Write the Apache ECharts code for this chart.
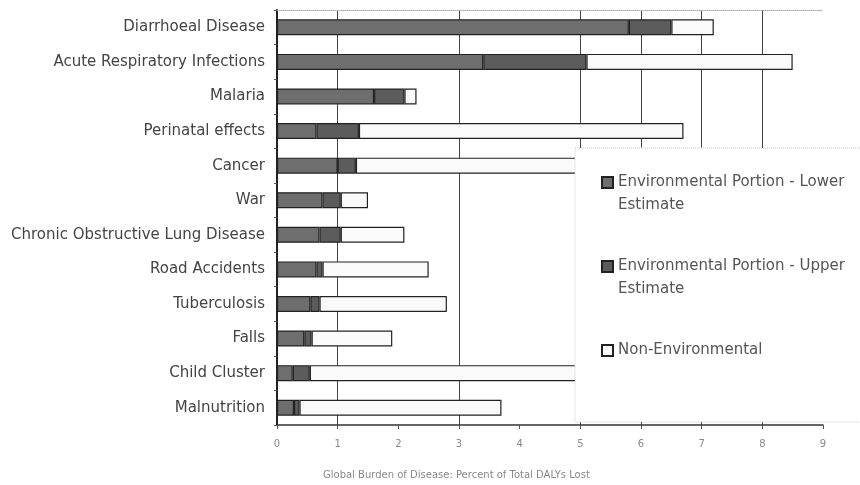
<!DOCTYPE html>
<html>
<head>
<meta charset="utf-8">
<script src="https://cdn.jsdelivr.net/npm/echarts@6/dist/echarts.min.js"></script>
<style>
html,body{margin:0;padding:0;background:#fff}
#main{width:860px;height:485px}
</style>
</head>
<body>
<div id="main"></div>
<script>
var categories = ['Diarrhoeal Disease', 'Acute Respiratory Infections', 'Malaria', 'Perinatal effects',
    'Cancer', 'War', 'Chronic Obstructive Lung Disease', 'Road Accidents', 'Tuberculosis', 'Falls',
    'Child Cluster', 'Malnutrition'];
// segment lengths, % of total DALYs lost
var lowerEstimate = [5.8, 3.4, 1.6, 0.65, 1.0, 0.75, 0.7, 0.65, 0.55, 0.45, 0.26, 0.28];
var upperExtra = [0.7, 1.7, 0.5, 0.7, 0.3, 0.3, 0.35, 0.1, 0.15, 0.12, 0.28, 0.09];
var nonEnvironmental = [0.7, 3.4, 0.2, 5.35, 4.5, 0.45, 1.05, 1.75, 2.1, 1.33, 5.4, 3.33];
var xTicks = [0, 1, 2, 3, 4, 5, 6, 7, 8, 9];

var chart = echarts.init(document.getElementById('main'));
var textColor = '#444';
// the scanned gridlines at 2, 4 and 9 have faded out
var gridColors = ['transparent', '#444', 'transparent', '#444', 'transparent', '#444', '#444', '#444', '#444', 'transparent'];

function segment(name, data, fill) {
    return {
        name: name,
        type: 'bar',
        stack: 'total',
        barWidth: 16,
        data: data,
        itemStyle: {
            color: fill,
            borderColor: '#222',
            borderWidth: 1.2
        },
        emphasis: { disabled: true }
    };
}

option = {
    backgroundColor: '#fff',
    animation: false,
    title: {
        text: 'Global Burden of Disease: Percent of Total DALYs Lost',
        left: 318,
        top: 465,
        textStyle: { fontSize: 10, fontWeight: 'normal', color: '#888', fontFamily: 'DejaVu Sans' }
    },
    grid: { left: 277, right: 37, top: 10, bottom: 60 },
    legend: {
        orient: 'vertical',
        left: 575,
        top: 148,
        padding: [0, 17, 37, 26],
        backgroundColor: '#fff',
        borderColor: '#ccc',
        borderWidth: 1,
        borderType: 'dotted',
        icon: 'rect',
        itemWidth: 11,
        itemHeight: 11,
        itemGap: 15,
        data: ['Environmental Portion - Lower Estimate', 'Environmental Portion - Upper Estimate', 'Non-Environmental'],
        formatter: function (name) {
            // blank line on top keeps the icon level with the first line
            if (name.indexOf(' Estimate') > 0) {
                return '\n' + name.replace(' Estimate', '\nEstimate');
            }
            return '\n' + name + '\n';
        },
        textStyle: {
            fontSize: 15,
            lineHeight: 23,
            color: '#555',
            fontFamily: 'DejaVu Sans'
        }
    },
    xAxis: [{
        type: 'value',
        min: 0,
        max: 9,
        interval: 1,
        axisLine: { show: true, lineStyle: { color: '#333', width: 1.5 } },
        axisTick: { show: true, length: 4, lineStyle: { color: '#555' } },
        axisLabel: {
            color: '#888', fontSize: 10, margin: 14, fontFamily: 'DejaVu Sans',
            formatter: function (v) { return xTicks.indexOf(v) >= 0 ? String(v) : ''; }
        },
        splitLine: { show: true, lineStyle: { color: gridColors, width: 1 } }
    }, {
        type: 'value',
        position: 'top',
        min: 0,
        max: 9,
        interval: 1,
        axisLine: { show: true, lineStyle: { color: '#aaa', type: 'dotted' } },
        axisTick: { show: false },
        axisLabel: { show: false },
        splitLine: { show: false }
    }],
    yAxis: {
        type: 'category',
        inverse: true,
        data: categories,
        axisLine: { show: true, lineStyle: { color: '#222', width: 2 } },
        axisTick: { show: true, length: 3, lineStyle: { color: '#555' } },
        axisLabel: { color: textColor, fontSize: 15, margin: 12, fontFamily: 'DejaVu Sans' }
    },
    series: [
        segment('Environmental Portion - Lower Estimate', lowerEstimate, '#6e6e6e'),
        segment('Environmental Portion - Upper Estimate', upperExtra, '#5c5c5c'),
        segment('Non-Environmental', nonEnvironmental, '#fafafa')
    ]
};
chart.setOption(option);
window.addEventListener('resize', function () {
    chart.resize();
});
</script>
</body>
</html>
